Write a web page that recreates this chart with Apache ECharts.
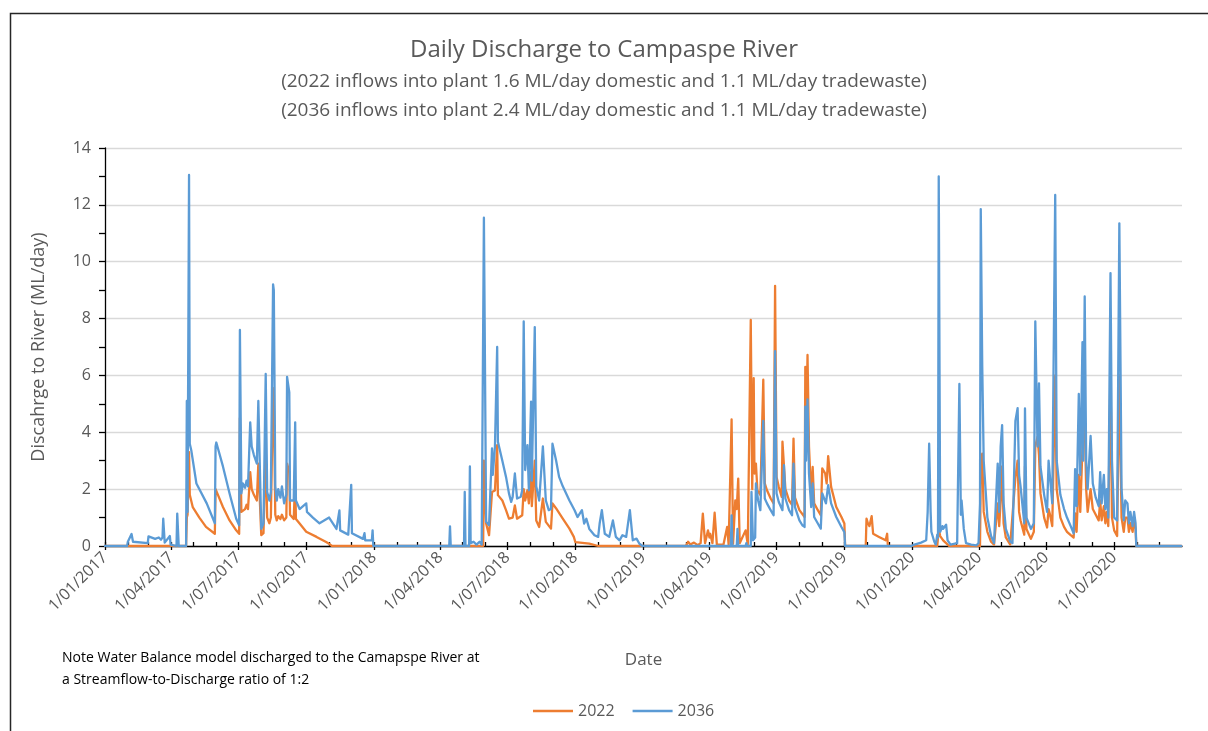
<!DOCTYPE html>
<html>
<head>
<meta charset="utf-8">
<title>Daily Discharge to Campaspe River</title>
<script src="https://cdn.jsdelivr.net/npm/echarts@6/dist/echarts.min.js"></script>
<style>
  html, body { margin: 0; padding: 0; background: #fff; }
  #draw { width: 1208px; height: 731px; }
</style>
</head>
<body>
<div id="draw"></div>
<script>
// daily discharge (ML/day), year by year
// 2022 scenario
var flow2022_2017 = [['2017-01-01',0],['2017-04-21',0],['2017-04-22',1.0],['2017-04-23',1.1],['2017-04-25',3.3],['2017-04-26',1.8],['2017-04-30',1.37],['2017-05-09',1.0],['2017-05-18',0.67],['2017-05-30',0.43],['2017-05-31',2.0],['2017-06-01',1.95],['2017-06-10',1.37],['2017-06-19',0.9],['2017-06-28',0.55],['2017-07-02',0.43],['2017-07-03',4.5],['2017-07-05',1.2],['2017-07-10',1.3],['2017-07-12',1.45],['2017-07-14',1.3],['2017-07-17',2.6],['2017-07-19',2.0],['2017-07-22',1.8],['2017-07-26',1.6],['2017-07-28',2.9],['2017-08-01',0.38],['2017-08-04',0.45],['2017-08-07',3.5],['2017-08-09',1.0],['2017-08-12',0.8],['2017-08-14',1.0],['2017-08-17',5.55],['2017-08-18',5.0],['2017-08-20',1.1],['2017-08-22',0.9],['2017-08-24',1.05],['2017-08-27',0.95],['2017-08-29',1.1],['2017-09-01',0.9],['2017-09-04',1.0],['2017-09-05',2.9],['2017-09-08',2.6],['2017-09-09',1.1],['2017-09-14',0.95],['2017-09-16',2.3],['2017-09-17',0.95],['2017-09-22',0.79],['2017-10-01',0.5],['2017-10-15',0.32],['2017-10-28',0.14],['2017-11-02',0.06],['2017-11-05',0],['2017-12-31',0]];
var flow2022_2018 = [['2018-01-01',0],['2018-05-29',0],['2018-05-30',3.0],['2018-06-02',0.79],['2018-06-06',0.38],['2018-06-10',1.9],['2018-06-14',1.95],['2018-06-17',3.55],['2018-06-18',1.79],['2018-06-24',1.6],['2018-06-29',1.26],['2018-07-03',0.96],['2018-07-08',1.0],['2018-07-11',1.43],['2018-07-14',0.96],['2018-07-21',1.08],['2018-07-23',2.0],['2018-07-25',1.6],['2018-07-28',1.96],['2018-07-30',1.5],['2018-08-02',2.6],['2018-08-03',1.4],['2018-08-07',3.0],['2018-08-09',0.9],['2018-08-13',0.67],['2018-08-18',1.67],['2018-08-22',0.85],['2018-08-29',0.61],['2018-08-31',1.5],['2018-09-05',1.32],['2018-09-14',0.96],['2018-09-23',0.61],['2018-09-29',0.32],['2018-10-01',0.14],['2018-10-20',0.08],['2018-11-01',0],['2018-12-31',0]];
var flow2022_2019 = [['2019-01-01',0],['2019-02-28',0],['2019-03-03',0.15],['2019-03-06',0.05],['2019-03-11',0.12],['2019-03-16',0.03],['2019-03-20',0.1],['2019-03-23',1.14],['2019-03-26',0.1],['2019-03-30',0.55],['2019-04-01',0.3],['2019-04-02',0.43],['2019-04-05',0.1],['2019-04-08',1.17],['2019-04-11',0.05],['2019-04-20',0.05],['2019-04-25',0.67],['2019-04-27',0.05],['2019-05-01',4.45],['2019-05-03',0.08],['2019-05-06',1.6],['2019-05-08',1.3],['2019-05-10',2.37],['2019-05-12',0.1],['2019-05-20',0.55],['2019-05-23',0.05],['2019-05-27',7.95],['2019-05-29',2.0],['2019-05-31',5.9],['2019-06-01',2.55],['2019-06-03',2.9],['2019-06-05',1.96],['2019-06-09',1.8],['2019-06-13',5.85],['2019-06-15',2.2],['2019-06-18',1.96],['2019-06-23',1.67],['2019-06-27',1.5],['2019-06-29',9.15],['2019-07-01',2.43],['2019-07-04',2.08],['2019-07-08',1.73],['2019-07-09',3.67],['2019-07-11',3.73],['2019-07-13',2.0],['2019-07-18',1.6],['2019-07-22',1.45],['2019-07-24',3.78],['2019-07-26',1.7],['2019-08-01',1.26],['2019-08-08',1.02],['2019-08-09',6.3],['2019-08-10',3.5],['2019-08-12',6.72],['2019-08-14',3.5],['2019-08-17',1.73],['2019-08-19',2.78],['2019-08-21',1.5],['2019-08-26',1.26],['2019-08-30',1.08],['2019-09-01',2.73],['2019-09-05',2.55],['2019-09-07',2.2],['2019-09-09',3.16],['2019-09-13',2.08],['2019-09-20',1.37],['2019-09-27',1.02],['2019-10-01',0.79],['2019-10-02',0],['2019-10-30',0],['2019-10-31',0.96],['2019-11-02',0.79],['2019-11-04',0.7],['2019-11-07',1.05],['2019-11-09',0.43],['2019-11-17',0.32],['2019-11-26',0.2],['2019-11-28',0.43],['2019-11-29',0],['2019-12-31',0]];
var flow2022_2020 = [['2020-01-01',0],['2020-02-04',0],['2020-02-06',0.6],['2020-02-08',0.35],['2020-02-12',0.2],['2020-02-16',0.1],['2020-02-20',0],['2020-04-02',0],['2020-04-03',2.5],['2020-04-05',3.25],['2020-04-07',1.2],['2020-04-12',0.5],['2020-04-17',0.15],['2020-04-21',0.05],['2020-04-26',1.5],['2020-04-28',0.7],['2020-05-01',2.0],['2020-05-02',2.8],['2020-05-04',0.8],['2020-05-07',0.3],['2020-05-13',0.05],['2020-05-20',2.4],['2020-05-23',3.0],['2020-05-25',1.2],['2020-05-27',0.9],['2020-06-01',0.4],['2020-06-02',2.8],['2020-06-04',0.6],['2020-06-10',0.25],['2020-06-14',0.5],['2020-06-16',3.5],['2020-06-19',3.84],['2020-06-21',3.2],['2020-06-23',1.85],['2020-06-28',1.0],['2020-07-02',0.65],['2020-07-04',1.3],['2020-07-06',1.1],['2020-07-09',0.7],['2020-07-13',6.0],['2020-07-15',2.0],['2020-07-20',1.0],['2020-07-25',0.67],['2020-07-29',0.5],['2020-08-03',0.38],['2020-08-07',0.3],['2020-08-09',1.15],['2020-08-11',0.5],['2020-08-14',2.5],['2020-08-16',1.2],['2020-08-19',3.5],['2020-08-21',5.0],['2020-08-22',4.5],['2020-08-24',2.0],['2020-08-26',1.2],['2020-08-30',2.0],['2020-09-02',1.3],['2020-09-06',1.1],['2020-09-10',0.9],['2020-09-12',1.6],['2020-09-14',0.9],['2020-09-17',1.4],['2020-09-19',0.8],['2020-09-21',1.2],['2020-09-23',0.7],['2020-09-26',6.3],['2020-09-28',1.0],['2020-10-01',0.55],['2020-10-05',0.35],['2020-10-08',6.0],['2020-10-11',1.0],['2020-10-14',0.5],['2020-10-16',1.0],['2020-10-19',1.0],['2020-10-21',0.5],['2020-10-23',0.8],['2020-10-26',0.5],['2020-10-28',0.9],['2020-10-30',0.6],['2020-10-31',0],['2020-12-31',0]];

// 2036 scenario
var flow2036_2017 = [['2017-01-01',0],['2017-01-31',0],['2017-02-01',0.15],['2017-02-06',0.42],['2017-02-08',0.15],['2017-02-28',0.1],['2017-03-01',0.34],['2017-03-10',0.25],['2017-03-15',0.3],['2017-03-18',0.22],['2017-03-20',0.3],['2017-03-21',0.96],['2017-03-23',0.12],['2017-03-30',0.35],['2017-03-31',0.05],['2017-04-01',0],['2017-04-08',0],['2017-04-09',1.14],['2017-04-11',0],['2017-04-21',0],['2017-04-22',5.1],['2017-04-23',1.2],['2017-04-25',13.05],['2017-04-26',3.6],['2017-04-28',3.37],['2017-05-05',2.2],['2017-05-19',1.5],['2017-05-30',0.8],['2017-05-31',3.5],['2017-06-01',3.64],['2017-06-10',2.8],['2017-06-19',1.85],['2017-06-28',0.96],['2017-07-02',0.73],['2017-07-03',7.6],['2017-07-05',1.85],['2017-07-07',2.2],['2017-07-10',2.05],['2017-07-12',2.3],['2017-07-14',2.1],['2017-07-17',4.35],['2017-07-19',3.5],['2017-07-22',3.2],['2017-07-26',2.9],['2017-07-28',5.1],['2017-08-01',0.6],['2017-08-04',0.8],['2017-08-07',6.05],['2017-08-09',1.9],['2017-08-12',1.6],['2017-08-14',1.9],['2017-08-17',9.2],['2017-08-18',9.0],['2017-08-20',2.1],['2017-08-22',1.6],['2017-08-24',2.0],['2017-08-27',1.7],['2017-08-29',2.1],['2017-09-01',1.5],['2017-09-04',1.8],['2017-09-05',5.95],['2017-09-08',5.4],['2017-09-09',1.6],['2017-09-14',1.6],['2017-09-16',4.35],['2017-09-17',1.6],['2017-09-22',1.3],['2017-10-01',1.5],['2017-10-02',1.2],['2017-10-10',1.0],['2017-10-19',0.8],['2017-11-01',1.0],['2017-11-11',0.6],['2017-11-15',1.25],['2017-11-16',0.55],['2017-11-27',0.4],['2017-12-01',2.15],['2017-12-02',0.45],['2017-12-17',0.25],['2017-12-19',0.45],['2017-12-20',0.2],['2017-12-29',0.2],['2017-12-30',0.55],['2017-12-31',0]];
var flow2036_2018 = [['2018-01-01',0],['2018-04-13',0],['2018-04-14',0.69],['2018-04-15',0],['2018-05-03',0],['2018-05-04',1.9],['2018-05-05',0],['2018-05-10',0],['2018-05-11',2.8],['2018-05-12',0.1],['2018-05-16',0.15],['2018-05-20',0.05],['2018-05-24',0.15],['2018-05-27',0.05],['2018-05-29',0.1],['2018-05-30',11.55],['2018-06-02',0.85],['2018-06-06',0.73],['2018-06-10',3.43],['2018-06-11',2.5],['2018-06-14',3.5],['2018-06-17',7.0],['2018-06-18',3.67],['2018-06-24',3.0],['2018-06-29',2.43],['2018-07-03',1.85],['2018-07-06',1.55],['2018-07-08',1.73],['2018-07-11',2.55],['2018-07-14',1.67],['2018-07-19',1.73],['2018-07-21',1.96],['2018-07-23',7.9],['2018-07-25',2.67],['2018-07-28',3.55],['2018-07-30',1.96],['2018-08-02',5.08],['2018-08-03',2.3],['2018-08-07',7.7],['2018-08-09',2.1],['2018-08-13',1.6],['2018-08-18',3.5],['2018-08-22',1.6],['2018-08-26',1.26],['2018-08-29',1.3],['2018-08-31',3.6],['2018-09-05',3.0],['2018-09-09',2.43],['2018-09-14',2.1],['2018-09-23',1.6],['2018-09-30',1.26],['2018-10-04',1.02],['2018-10-10',1.26],['2018-10-13',0.79],['2018-10-16',0.96],['2018-10-20',0.6],['2018-10-27',0.38],['2018-11-01',0.32],['2018-11-03',0.79],['2018-11-06',1.26],['2018-11-10',0.43],['2018-11-16',0.32],['2018-11-21',0.9],['2018-11-25',0.32],['2018-11-30',0.2],['2018-12-04',0.38],['2018-12-09',0.32],['2018-12-14',1.26],['2018-12-18',0.2],['2018-12-23',0.26],['2018-12-27',0.08],['2018-12-31',0]];
var flow2036_2019 = [['2019-01-01',0],['2019-04-30',0],['2019-05-01',1.08],['2019-05-02',0],['2019-05-08',0],['2019-05-09',0.6],['2019-05-10',0],['2019-05-20',0],['2019-05-21',0.1],['2019-05-22',0],['2019-05-27',0],['2019-05-28',1.9],['2019-05-30',0.2],['2019-06-02',0.3],['2019-06-03',2.2],['2019-06-06',1.6],['2019-06-09',1.26],['2019-06-13',4.4],['2019-06-15',1.67],['2019-06-18',1.5],['2019-06-23',1.26],['2019-06-27',1.08],['2019-06-29',6.85],['2019-07-01',1.85],['2019-07-04',1.55],['2019-07-09',1.26],['2019-07-11',2.84],['2019-07-13',1.67],['2019-07-18',1.26],['2019-07-22',1.08],['2019-07-24',2.9],['2019-07-26',1.37],['2019-08-01',0.9],['2019-08-05',0.73],['2019-08-08',0.67],['2019-08-09',4.9],['2019-08-10',3.0],['2019-08-12',5.16],['2019-08-14',2.55],['2019-08-17',1.37],['2019-08-19',2.2],['2019-08-21',1.02],['2019-08-26',0.79],['2019-08-30',0.61],['2019-09-01',1.85],['2019-09-06',1.5],['2019-09-09',2.14],['2019-09-13',1.5],['2019-09-20',1.02],['2019-09-27',0.67],['2019-10-01',0.49],['2019-10-02',0],['2019-12-31',0]];
var flow2036_2020 = [['2020-01-01',0],['2020-01-04',0.05],['2020-01-13',0.12],['2020-01-20',0.2],['2020-01-22',1.2],['2020-01-24',3.6],['2020-01-26',1.2],['2020-01-27',0.5],['2020-01-31',0.15],['2020-02-02',0.05],['2020-02-04',0.4],['2020-02-05',0.3],['2020-02-06',13.0],['2020-02-08',0.5],['2020-02-11',0.7],['2020-02-12',0.6],['2020-02-16',0.75],['2020-02-18',0.2],['2020-02-22',0.05],['2020-03-02',0.1],['2020-03-05',5.7],['2020-03-07',1.1],['2020-03-08',1.6],['2020-03-11',0.6],['2020-03-14',0.1],['2020-03-21',0.05],['2020-03-28',0.02],['2020-03-31',0.1],['2020-04-02',1.5],['2020-04-03',11.85],['2020-04-05',6.35],['2020-04-07',3.0],['2020-04-12',1.0],['2020-04-17',0.35],['2020-04-21',0.1],['2020-04-26',2.9],['2020-04-28',1.2],['2020-04-30',3.5],['2020-05-02',4.25],['2020-05-04',1.5],['2020-05-07',0.6],['2020-05-13',0.15],['2020-05-16',0.1],['2020-05-20',4.4],['2020-05-23',4.85],['2020-05-25',2.5],['2020-05-27',2.1],['2020-06-01',0.8],['2020-06-02',4.84],['2020-06-04',1.0],['2020-06-10',0.6],['2020-06-14',0.8],['2020-06-16',7.9],['2020-06-19',3.5],['2020-06-21',5.72],['2020-06-23',2.8],['2020-06-28',1.8],['2020-07-02',1.2],['2020-07-04',3.0],['2020-07-06',2.4],['2020-07-09',1.5],['2020-07-13',12.35],['2020-07-15',3.0],['2020-07-20',1.8],['2020-07-25',1.3],['2020-07-29',1.0],['2020-08-03',0.7],['2020-08-07',0.45],['2020-08-09',2.7],['2020-08-11',1.4],['2020-08-14',5.35],['2020-08-16',2.5],['2020-08-19',7.17],['2020-08-20',3.0],['2020-08-22',8.78],['2020-08-24',3.0],['2020-08-26',2.0],['2020-08-30',3.87],['2020-09-02',2.2],['2020-09-06',1.7],['2020-09-10',1.4],['2020-09-12',2.6],['2020-09-14',1.5],['2020-09-17',2.5],['2020-09-19',1.3],['2020-09-21',2.0],['2020-09-23',1.0],['2020-09-26',9.6],['2020-09-28',3.0],['2020-10-01',1.0],['2020-10-05',0.9],['2020-10-08',11.35],['2020-10-11',2.0],['2020-10-14',0.9],['2020-10-16',1.6],['2020-10-19',1.5],['2020-10-21',0.8],['2020-10-23',1.2],['2020-10-26',0.7],['2020-10-28',1.2],['2020-10-30',0.8],['2020-10-31',0],['2020-12-31',0]];

var seriesNames = ['2022', '2036'];
var yTicks = [0, 14, 2]; // min, max, step

(function(w){
    var textColor = '#595959',
        font = 'Open Sans';

    // 'yyyy-mm-dd' -> local timestamp
    function toTime(s){
        var p = s.split('-');
        return new Date(+p[0], +p[1] - 1, +p[2]).getTime();
    }
    function toPoints(list){
        return list.map(function(item){
            return [toTime(item[0]), item[1]];
        });
    }

    var flow2022 = toPoints([].concat(flow2022_2017, flow2022_2018, flow2022_2019, flow2022_2020)),
        flow2036 = toPoints([].concat(flow2036_2017, flow2036_2018, flow2036_2019, flow2036_2020));

    // quarter starts get labels, every month gets a small tick
    var quarters = [], months = [], y, m;
    for(y = 2017; y <= 2020; y++){
        for(m = 0; m < 12; m++){
            months.push(new Date(y, m, 1).getTime());
            if(m % 3 === 0){
                quarters.push(new Date(y, m, 1).getTime());
            }
        }
    }
    var xMin = new Date(2017, 0, 1).getTime(),
        xMax = new Date(2021, 0, 1).getTime();

    function fmtDate(v){
        var d = new Date(v),
            mm = d.getMonth() + 1;
        return d.getDate() + '/' + (mm < 10 ? '0' + mm : mm) + '/' + d.getFullYear();
    }

    var myChart = echarts.init(document.getElementById('draw'));
    var option = {
        animation: false,
        textStyle: { fontFamily: font },
        title: {
            text: 'Daily Discharge to Campaspe River',
            subtext: '(2022 inflows into plant 1.6 ML/day domestic and 1.1 ML/day tradewaste)\n(2036 inflows into plant 2.4 ML/day domestic and 1.1 ML/day tradewaste)',
            left: 'center',
            top: 30,
            itemGap: 2,
            textStyle: {
                fontFamily: font,
                fontSize: 24,
                fontWeight: 'normal',
                color: textColor,
                lineHeight: 30
            },
            subtextStyle: {
                fontFamily: font,
                fontSize: 19,
                color: textColor,
                lineHeight: 29
            }
        },
        legend: {
            data: seriesNames,
            left: 528,
            top: 698,
            icon: 'rect',
            itemWidth: 40,
            itemHeight: 2.5,
            itemGap: 18,
            textStyle: { fontFamily: font, fontSize: 16, color: textColor }
        },
        grid: {
            left: 105,
            right: 26,
            top: 148,
            bottom: 185
        },
        xAxis: [{
            type: 'value',
            min: xMin,
            max: xMax,
            name: 'Date',
            nameLocation: 'middle',
            nameGap: 106,
            nameTextStyle: { fontFamily: font, fontSize: 17, color: textColor },
            axisLine: { lineStyle: { color: '#000', width: 1.3 } },
            axisTick: {
                show: true,
                length: 4,
                customValues: quarters,
                lineStyle: { color: '#000', width: 1.3 }
            },
            axisLabel: {
                customValues: quarters,
                rotate: 45,
                margin: 9,
                fontFamily: font,
                fontSize: 16,
                color: textColor,
                formatter: fmtDate
            },
            splitLine: { show: false }
        }, {
            // monthly minor ticks, drawn inside the plot
            type: 'value',
            min: xMin,
            max: xMax,
            position: 'bottom',
            axisLine: { show: false },
            axisTick: {
                show: true,
                inside: true,
                length: 4,
                customValues: months,
                lineStyle: { color: '#000', width: 1.3 }
            },
            axisLabel: { show: false },
            splitLine: { show: false }
        }],
        yAxis: {
            type: 'value',
            min: yTicks[0],
            max: yTicks[1],
            interval: yTicks[2],
            name: 'Discahrge to River (ML/day)',
            nameLocation: 'middle',
            nameGap: 57,
            nameTextStyle: { fontFamily: font, fontSize: 18, color: textColor },
            axisLine: { show: true, lineStyle: { color: '#000', width: 1.3 } },
            axisTick: { show: true, length: 6, lineStyle: { color: '#000', width: 1.3 } },
            minorTick: { show: true, splitNumber: 2, length: 6, lineStyle: { color: '#000', width: 1.3 } },
            axisLabel: { margin: 14, fontFamily: font, fontSize: 16, color: textColor },
            splitLine: { lineStyle: { color: '#d9d9d9', width: 1.3 } }
        },
        series: [{
            name: seriesNames[0],
            type: 'line',
            symbol: 'none',
            color: '#ED7D31',
            lineStyle: { width: 2.3, color: '#ED7D31', join: 'round', cap: 'round' },
            data: flow2022
        }, {
            name: seriesNames[1],
            type: 'line',
            symbol: 'none',
            color: '#5B9BD5',
            lineStyle: { width: 2.3, color: '#5B9BD5', join: 'round', cap: 'round' },
            data: flow2036
        }],
        graphic: [{
            type: 'rect',
            shape: { x: 10.5, y: 13.5, width: 1400, height: 900 },
            style: { fill: 'none', stroke: '#262626', lineWidth: 1.5 },
            silent: true
        }, {
            type: 'text',
            left: 62,
            top: 647,
            style: {
                text: 'Note Water Balance model discharged to the Camapspe River at\na Streamflow-to-Discharge ratio of 1:2',
                fontFamily: font,
                fontSize: 14,
                lineHeight: 22,
                fill: '#000'
            }
        }]
    };
    myChart.setOption(option);
})(window);
</script>
</body>
</html>
